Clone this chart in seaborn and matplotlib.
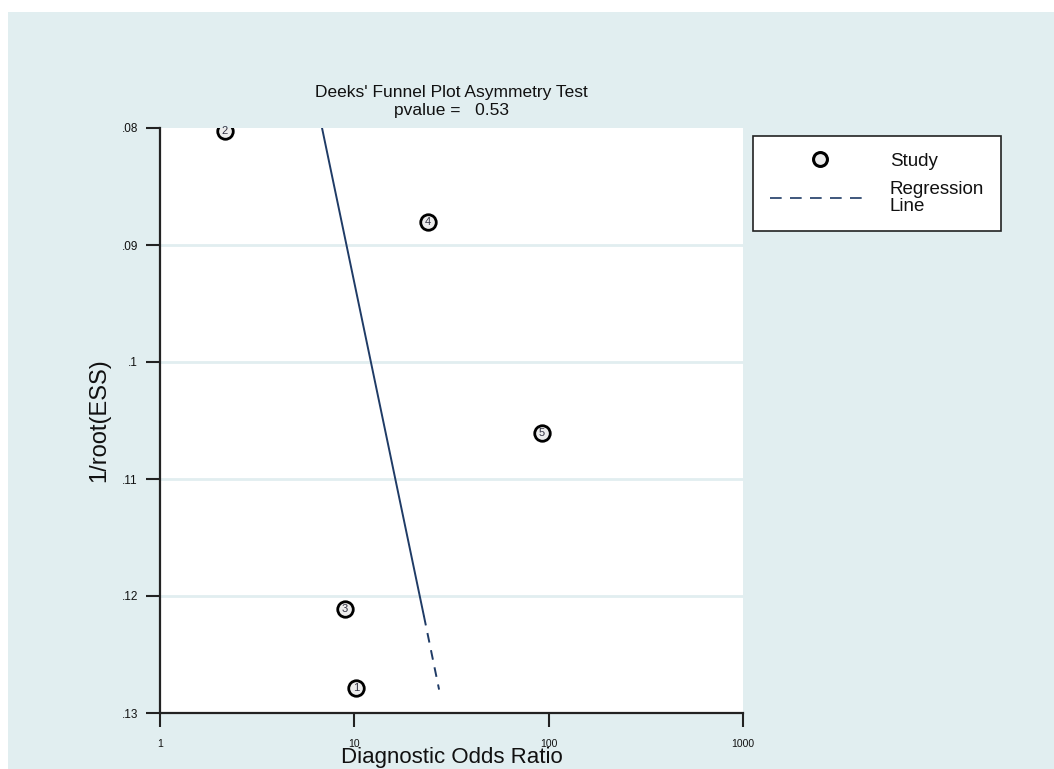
import numpy as np
import pandas as pd
import matplotlib
matplotlib.use("Agg")
import matplotlib.pyplot as plt
import seaborn as sns
from matplotlib.lines import Line2D
from matplotlib.patches import Rectangle

# Study points
study_ids = ["1", "2", "3", "4", "5"]
dor = [10.2, 2.16, 8.96, 23.9, 92.5]
inv_root_ess = [0.1279, 0.08026, 0.1211, 0.0880, 0.1061]

# Regression line end points (solid part, then dashed tail)
reg_x_solid = [6.82, 22.8]
reg_y_solid = [0.0800, 0.1217]
reg_x_dash = [22.8, 27.3]
reg_y_dash = [0.1217, 0.1280]

yticks = [0.08, 0.09, 0.10, 0.11, 0.12, 0.13]
ytick_labels = [".08", ".09", ".1", ".11", ".12", ".13"]
xticks = [1, 10, 100, 1000]
xtick_labels = ["1", "10", "100", "1000"]

bg = "#e1eef0"
line_col = "#1f3b66"

sns.set_theme(style="white")
plt.rcParams['font.family'] = ['Liberation Sans', 'DejaVu Sans']
plt.rcParams['text.color'] = '#111111'

df = pd.DataFrame({"id": study_ids, "dor": dor, "y": inv_root_ess})

fig = plt.figure(figsize=(10.54, 7.69), dpi=100)
fig.patch.set_facecolor("white")
fig.patches.append(Rectangle((8 / 1054, 0), 1, 1 - 12 / 769, transform=fig.transFigure,
                             facecolor=bg, edgecolor="none", zorder=-10))

ax = fig.add_axes([160 / 1054, 1 - 713 / 769, (743 - 160) / 1054, (713 - 128) / 769])
ax.set_facecolor("white")
ax.set_xscale("log")

# grid lines in background colour
for yv in yticks[1:-1]:
    ax.axhline(yv, color=bg, lw=2, zorder=0)

sns.lineplot(x=reg_x_solid, y=reg_y_solid, ax=ax, color=line_col, lw=1.4, zorder=2)
sns.lineplot(x=reg_x_dash, y=reg_y_dash, ax=ax, color=line_col, lw=1.4,
             linestyle=(0, (5, 4)), zorder=2)

sns.scatterplot(data=df, x="dor", y="y", ax=ax, s=125, color="#ececec",
                edgecolor="black", linewidth=2.0, zorder=3, legend=False)
for sid, xv, yv in zip(study_ids, dor, inv_root_ess):
    ax.text(xv, yv, sid, ha="center", va="center", fontsize=8, color="#333344", zorder=4)

ax.set_xlim(1, 1000)
ax.set_ylim(0.13, 0.08)
ax.set_xticks(xticks)
ax.set_xticklabels(xtick_labels, fontsize=7.5, color="#111111")
ax.xaxis.set_minor_locator(matplotlib.ticker.NullLocator())
ax.set_yticks(yticks)
ax.set_yticklabels(ytick_labels, fontsize=8.5, color="#111111")
ax.tick_params(axis="x", length=10, width=1.5, color="#222222", pad=9, direction="out", bottom=True)
ax.tick_params(axis="y", length=10, width=1.5, color="#222222", pad=6, direction="out", left=True)

for side in ["top", "right"]:
    ax.spines[side].set_visible(False)
for side in ["left", "bottom"]:
    ax.spines[side].set_color("#222222")
    ax.spines[side].set_linewidth(1.6)

ax.set_xlabel("")
ax.set_ylabel("1/root(ESS)", fontsize=17, labelpad=8, color="#111111")
fig.text(452 / 1054, 1 - 758 / 769, "Diagnostic Odds Ratio", ha="center", va="center",
         fontsize=16)

fig.text(451 / 1054, 1 - 93 / 769, "Deeks' Funnel Plot Asymmetry Test", ha="center",
         va="center", fontsize=12.5)
fig.text(451 / 1054, 1 - 111 / 769, "pvalue =   0.53", ha="center", va="center", fontsize=12.5)

handles = [
    Line2D([], [], marker="o", linestyle="none", markersize=10, markerfacecolor="#ececec",
           markeredgecolor="black", markeredgewidth=2.2),
    Line2D([], [], color=line_col, lw=1.2, linestyle=(0, (7, 5))),
]
leg = fig.legend(handles, ["Study", "Regression\nLine"], loc="upper left",
                 bbox_to_anchor=(753 / 1054, 1 - 136 / 769), frameon=True, fontsize=13.5,
                 handlelength=5.3, handletextpad=1.1, borderpad=0.9, labelspacing=0.6,
                 fancybox=False, borderaxespad=0)
leg.get_frame().set_edgecolor("#222222")
leg.get_frame().set_facecolor("white")
leg.get_frame().set_alpha(1)
leg.get_frame().set_linewidth(1.2)
for t in leg.get_texts():
    t.set_linespacing(0.95)

fig.savefig("out.png", dpi=100)
